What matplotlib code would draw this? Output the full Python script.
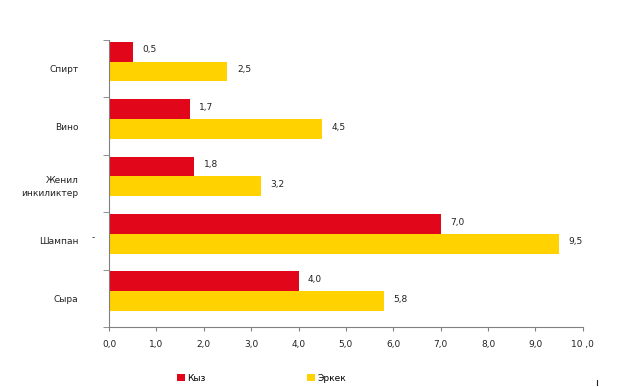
import numpy as np
import matplotlib.pyplot as plt
from matplotlib.ticker import FixedLocator

# data
categories = ["Спирт", "Вино", "Женил\nинкиликтер", "Шампан", "Сыра"]
kyz = [0.5, 1.7, 1.8, 7.0, 4.0]
erkek = [2.5, 4.5, 3.2, 9.5, 5.8]
series_names = ["Кыз", "Эркек"]
xticks = [0, 1, 2, 3, 4, 5, 6, 7, 8, 9, 10]
xtick_labels = ["0,0", "1,0", "2,0", "3,0", "4,0", "5,0", "6,0", "7,0", "8,0", "9,0", "10 ,0"]

red = "#E2061A"
yellow = "#FFD200"
grey = "#808080"

plt.rcParams["font.family"] = ["DejaVu Sans"]

fig = plt.figure(figsize=(6.18, 3.87), dpi=100)
ax = fig.add_axes([0.1764, 0.155, 0.7666, 0.7416])

y = np.arange(len(categories))
h = 0.345
shift = -0.125
bars_k = ax.barh(y + shift - h / 2, kyz, height=h, color=red, label=series_names[0])
bars_e = ax.barh(y + shift + h / 2, erkek, height=h, color=yellow, label=series_names[1])

for bars, vals in [(bars_k, kyz), (bars_e, erkek)]:
    for b, v in zip(bars, vals):
        ax.text(v + 0.2, b.get_y() + b.get_height() / 2 - 0.03, f"{v:.1f}".replace(".", ","),
                va="center", ha="left", fontsize=6.5, color="#222222")

ax.set_xlim(0, 10)
ax.set_ylim(len(categories) - 0.5, -0.5)
ax.set_xticks(xticks)
ax.set_xticklabels(xtick_labels, fontsize=6.5, color="#222222")

ax.set_yticks(y)
ax.set_yticklabels(categories, fontsize=6.5, color="#222222", linespacing=1.6)
ax.tick_params(axis="y", length=0, pad=22)
ax.yaxis.set_minor_locator(FixedLocator(np.arange(-0.5, len(categories), 1)))
ax.tick_params(axis="y", which="minor", length=4, color=grey, direction="out")
ax.tick_params(axis="x", length=3, color=grey, direction="out", pad=6)

for s in ["top", "right"]:
    ax.spines[s].set_visible(False)
for s in ["left", "bottom"]:
    ax.spines[s].set_color(grey)
    ax.spines[s].set_linewidth(0.8)

# stray dash next to "Шампан"
ax.text(-0.33, 3 - 0.05, "-", fontsize=6.5, color="#222222", va="center", ha="center")

ax.legend(loc="center left", bbox_to_anchor=(0.143, -0.178), ncol=2, frameon=False,
          fontsize=6.5, handlelength=0.9, handleheight=0.9, columnspacing=11.2,
          handletextpad=0.3, borderpad=0, borderaxespad=0)

# small mark at lower right
fig.add_artist(plt.Line2D([597 / 618, 597 / 618], [1 - 385 / 387, 1 - 380 / 387],
                          color="#222222", lw=0.8))

fig.savefig("out.png", dpi=100)
